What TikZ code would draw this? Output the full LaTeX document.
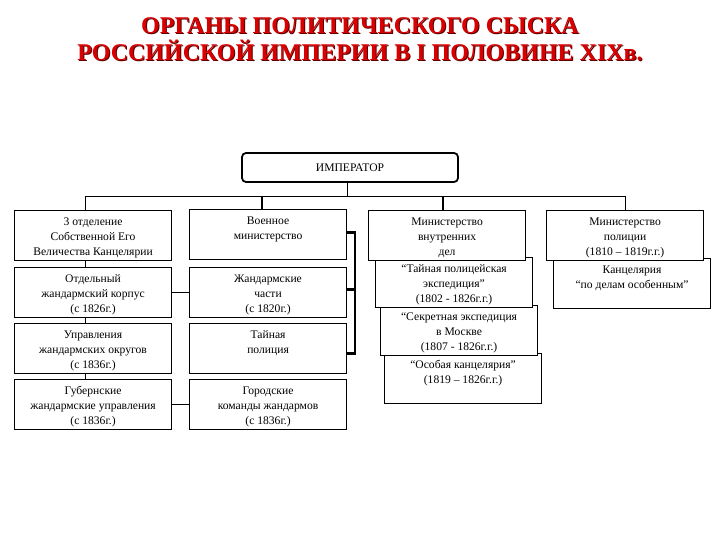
\documentclass[tikz,border=0pt]{standalone}
\usepackage{fontspec}
\setmainfont{Liberation Serif}
\usepackage{tikz}
\usepackage{xcolor}
\usetikzlibrary{positioning,calc}
\definecolor{titlered}  {HTML}{D80000}
\definecolor{titleshade}{HTML}{5A0000}
\definecolor{ink}       {HTML}{000000}
\newcommand{\cell}[1]{\parbox[c][50pt][t]{157pt}{\centering
  \fontsize{11.6}{15}\selectfont\rule{0pt}{14.5pt}#1}}

\begin{document}
\begin{tikzpicture}[x=1pt,y=-1pt,
    cellbox/.style={draw=ink,line width=1.1pt,fill=white,inner sep=0pt,anchor=north west},
    link/.style={draw=ink,line width=0.9pt},
    boldlink/.style={draw=ink,line width=2.4pt},
    headline/.style={font=\fontsize{24}{27}\selectfont\bfseries,align=center}]
  \useasboundingbox (0,0) rectangle (720,540);

  \node[headline,text=titleshade] (titleshadow) at (361,40) {%
    ОРГАНЫ ПОЛИТИЧЕСКОГО СЫСКА\\РОССИЙСКОЙ ИМПЕРИИ В I ПОЛОВИНЕ XIXв.};
  \node[headline,text=titlered] (title) at (360,39) {%
    ОРГАНЫ ПОЛИТИЧЕСКОГО СЫСКА\\РОССИЙСКОЙ ИМПЕРИИ В I ПОЛОВИНЕ XIXв.};

  \node[draw=ink,line width=1.8pt,rounded corners=4pt,
        minimum width=216pt,minimum height=29pt,inner sep=0pt,
        font=\fontsize{11.6}{13}\selectfont] (emperor) at (350,167.5) {ИМПЕРАТОР};

  % left column
  \node[cellbox] (third)  at (14,210) {\cell{3 отделение\\Собственной Его\\Величества Канцелярии}};
  \node[cellbox] (corps)  at (14,267) {\cell{Отдельный\\жандармский корпус\\(с 1826г.)}};
  \node[cellbox] (okrug)  at (14,323) {\cell{Управления\\жандармских округов\\(с 1836г.)}};
  \node[cellbox] (gubern) at (14,379) {\cell{Губернские\\жандармские управления\\(с 1836г.)}};

  % middle column
  \node[cellbox] (mil)    at (189,209) {\cell{Военное\\министерство}};
  \node[cellbox] (gend)   at (189,267) {\cell{Жандармские\\части\\(с 1820г.)}};
  \node[cellbox] (secret) at (189,323) {\cell{Тайная\\полиция}};
  \node[cellbox] (city)   at (189,379) {\cell{Городские\\команды жандармов\\(с 1836г.)}};

  % ministry of interior stack
  \node[cellbox] (osob) at (384,353) {\cell{“Особая канцелярия”\\(1819 – 1826г.г.)}};
  \node[cellbox] (sekr) at (380,305) {\cell{“Секретная экспедиция\\в Москве\\(1807 - 1826г.г.)}};
  \node[cellbox] (tpe)  at (375,257) {\cell{“Тайная полицейская\\экспедиция”\\(1802 - 1826г.г.)}};
  \node[cellbox] (mvd)  at (368,210) {\cell{Министерство\\внутренних\\дел}};

  % ministry of police stack
  \node[cellbox] (kanc) at (553,258) {\cell{Канцелярия\\“по делам особенным”}};
  \node[cellbox] (mpol) at (546,210) {\cell{Министерство\\полиции\\(1810 – 1819г.г.)}};

  \coordinate (busL) at (85,196.5);
  \coordinate (busM) at (262,196.5);
  \coordinate (busE) at (347,196.5);
  \coordinate (busV) at (443,196.5);
  \coordinate (busR) at (625,196.5);

  \draw[link] (busL) -- (busR);
  \draw[link] (emperor.south -| busE) -- (busE);
  \draw[link] (busL) -- (busL |- third.north);
  \draw[boldlink] (busM) -- (busM |- mil.north);
  \draw[boldlink] (busV) -- (busV |- mvd.north);
  \draw[link] (busR) -- (busR |- mpol.north);
  \foreach \a/\b in {third/corps,corps/okrug,okrug/gubern}
    \draw[link] (\a.south -| busL) -- (\b.north -| busL);
  \draw[link] (corps.east) -- (gend.west);
  \draw[link] (gubern.east) -- (city.west);

  % bracket
  \draw[boldlink] ([yshift=2pt]mil.east) -- ++(8,0) |- ([yshift=-5pt]secret.east);
  \draw[boldlink] ([yshift=3pt]gend.east) -- ++(8,0);
\end{tikzpicture}
\end{document}
